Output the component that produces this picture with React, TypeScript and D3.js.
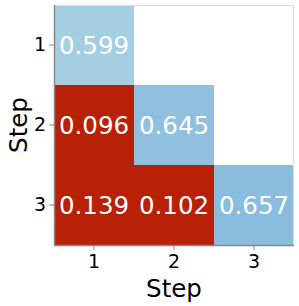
import React, { useEffect, useRef } from 'react';
import * as d3 from 'd3';

// step labels on both axes
const steps = ['1', '2', '3'];
// lower-triangle cells: row step, column step, value
const rowSteps = ['1', '2', '2', '3', '3', '3'];
const colSteps = ['1', '1', '2', '1', '2', '3'];
const values = [0.599, 0.096, 0.645, 0.139, 0.102, 0.657];

const W = 299;
const H = 306;
const margin = { top: 5, right: 5, bottom: 61, left: 54 };

const App = () => {
  const ref = useRef<SVGSVGElement>(null);

  useEffect(() => {
    const svg = d3.select(ref.current);
    svg.selectAll('*').remove();

    const innerW = W - margin.left - margin.right;
    const innerH = H - margin.top - margin.bottom;

    const x = d3.scaleBand().domain(steps).range([0, innerW]).padding(0);
    const y = d3.scaleBand().domain(steps).range([0, innerH]).padding(0);

    const blue = d3.scaleLinear<string>().domain([0.599, 0.657]).range(['#a6cee3', '#8abcdd']).clamp(true);
    const color = (v: number) => (v < 0.3 ? '#b92106' : blue(v));

    const g = svg.append('g').attr('transform', `translate(${margin.left},${margin.top})`);

    const cells = rowSteps.map((r, i) => ({ r, c: colSteps[i], v: values[i] }));

    g.selectAll('rect.cell')
      .data(cells)
      .enter().append('rect')
      .attr('x', d => x(d.c)!)
      .attr('y', d => y(d.r)!)
      .attr('width', x.bandwidth())
      .attr('height', y.bandwidth())
      .attr('fill', d => color(d.v));

    g.selectAll('text.val')
      .data(cells)
      .enter().append('text')
      .attr('x', d => x(d.c)! + x.bandwidth() / 2)
      .attr('y', d => y(d.r)! + y.bandwidth() / 2)
      .attr('dy', '0.36em')
      .attr('text-anchor', 'middle')
      .attr('fill', '#fff')
      .attr('font-size', 24.5)
      .attr('font-family', 'DejaVu Sans')
      .text(d => d3.format('.3f')(d.v));

    // light frame on top and right
    g.append('path')
      .attr('d', `M0,0.5H${innerW - 0.5}V${innerH}`)
      .attr('fill', 'none')
      .attr('stroke', '#dddddd')
      .attr('stroke-width', 1);

    const yAxis = g.append('g').call(d3.axisLeft(y).tickSize(5).tickPadding(3));
    const xAxis = g.append('g').attr('transform', `translate(0,${innerH})`)
      .call(d3.axisBottom(x).tickSize(5).tickPadding(5));

    [yAxis, xAxis].forEach(a => {
      a.select('.domain').attr('stroke', '#888').attr('stroke-width', 1.5);
      a.selectAll('.tick line').attr('stroke', '#888');
      a.selectAll('.tick text').attr('fill', '#000').attr('font-size', 19).attr('font-family', 'DejaVu Sans');
    });
    yAxis.select('.domain').attr('d', `M0.5,0V${innerH}`);
    xAxis.select('.domain').attr('d', `M0,0.5H${innerW}`);

    svg.append('text')
      .attr('x', margin.left + innerW / 2)
      .attr('y', 297)
      .attr('text-anchor', 'middle')
      .attr('font-size', 24.5)
      .attr('font-family', 'DejaVu Sans')
      .text('Step');

    svg.append('text')
      .attr('transform', `translate(27,${margin.top + innerH / 2}) rotate(-90)`)
      .attr('text-anchor', 'middle')
      .attr('font-size', 24.5)
      .attr('font-family', 'DejaVu Sans')
      .text('Step');
  }, []);

  return (
    <svg ref={ref} width={W} height={H} style={{ position: 'absolute', top: 0, left: 0, background: '#fff' }} />
  );
};

export default App;
